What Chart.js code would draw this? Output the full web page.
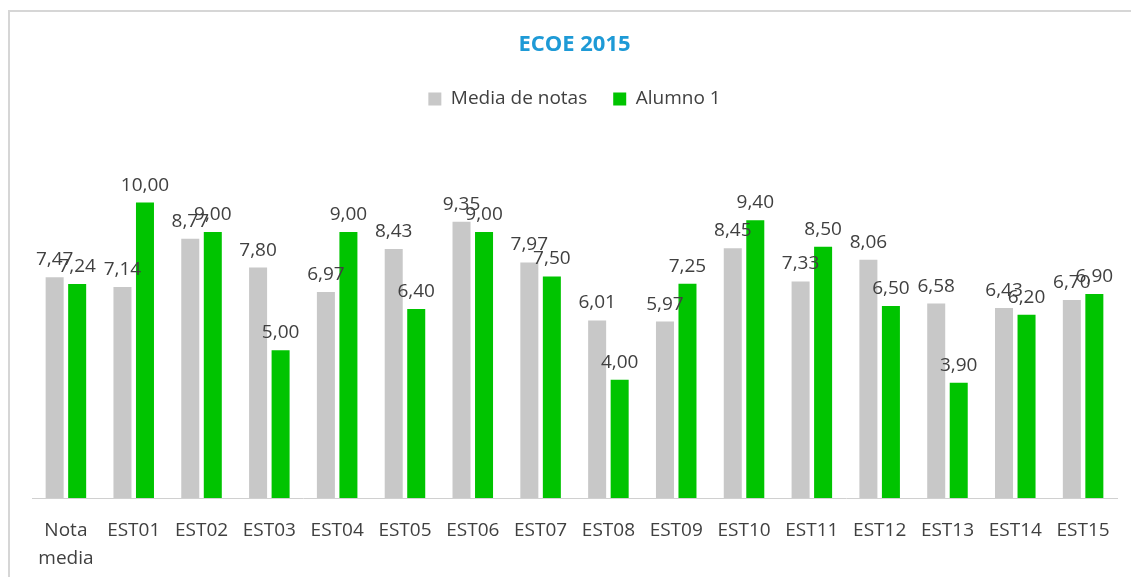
<!DOCTYPE html>
<html>
<head>
<meta charset="utf-8">
<script src="https://cdn.jsdelivr.net/npm/chart.js@4.4.1/dist/chart.umd.min.js"></script>
<style>
  html, body { margin: 0; padding: 0; background: #ffffff; overflow: hidden; }
  canvas { display: block; }
</style>
</head>
<body>
<canvas id="c" width="1131" height="577"></canvas>
<script>
const categories = [['Nota', 'media'], 'EST01', 'EST02', 'EST03', 'EST04', 'EST05', 'EST06', 'EST07',
  'EST08', 'EST09', 'EST10', 'EST11', 'EST12', 'EST13', 'EST14', 'EST15'];
const mediaNotas = [7.47, 7.14, 8.77, 7.80, 6.97, 8.43, 9.35, 7.97, 6.01, 5.97, 8.45, 7.33, 8.06, 6.58, 6.43, 6.70];
const alumno1 = [7.24, 10.00, 9.00, 5.00, 9.00, 6.40, 9.00, 7.50, 4.00, 7.25, 9.40, 8.50, 6.50, 3.90, 6.20, 6.90];
const seriesNames = ['Media de notas', 'Alumno 1'];
const chartTitle = 'ECOE 2015';

const FONT = "'Open Sans', 'DejaVu Sans', sans-serif";
const TEXT = '#404040';

const legendSpacer = {
  id: 'legendSpacer',
  beforeInit(chart) {
    const origFit = chart.legend.fit;
    chart.legend.fit = function () {
      origFit.bind(chart.legend)();
      this.height += 25;
    };
  }
};

const frame = {
  id: 'frame',
  beforeDraw(chart) {
    const ctx = chart.ctx;
    ctx.save();
    ctx.strokeStyle = '#d6d6d6';
    ctx.lineWidth = 2;
    ctx.beginPath();
    ctx.moveTo(9, chart.height);
    ctx.lineTo(9, 11);
    ctx.lineTo(chart.width, 11);
    ctx.stroke();
    ctx.restore();
  }
};

const valueLabels = {
  id: 'valueLabels',
  afterDatasetsDraw(chart) {
    const ctx = chart.ctx;
    ctx.save();
    ctx.font = '19px ' + FONT;
    ctx.fillStyle = TEXT;
    ctx.textAlign = 'center';
    ctx.textBaseline = 'alphabetic';
    chart.data.datasets.forEach((ds, di) => {
      const meta = chart.getDatasetMeta(di);
      meta.data.forEach((bar, i) => {
        const txt = ds.data[i].toFixed(2).replace('.', ',');
        ctx.fillText(txt, bar.x, bar.y - 12);
      });
    });
    ctx.restore();
  }
};

new Chart(document.getElementById('c'), {
  type: 'bar',
  data: {
    labels: categories,
    datasets: [
      { label: seriesNames[0], data: mediaNotas, backgroundColor: '#c8c8c8',
        categoryPercentage: 0.664, barPercentage: 0.8 },
      { label: seriesNames[1], data: alumno1, backgroundColor: '#00c400',
        categoryPercentage: 0.664, barPercentage: 0.8 }
    ]
  },
  options: {
    responsive: false,
    animation: false,
    devicePixelRatio: 1,
    layout: { padding: { left: 32, right: 14, top: 0, bottom: 0 } },
    plugins: {
      title: {
        display: true, text: chartTitle, color: '#1e9ad6',
        font: { family: FONT, size: 22, weight: 'bold', lineHeight: 1.2 },
        padding: { top: 32, bottom: 5 }
      },
      legend: {
        display: true, position: 'top',
        labels: {
          color: TEXT, font: { family: FONT, size: 19 },
          boxWidth: 13, boxHeight: 13, padding: 26
        }
      },
      tooltip: { enabled: false }
    },
    scales: {
      x: {
        grid: { display: false },
        border: { display: true, color: '#d0d0d0', width: 1 },
        ticks: {
          color: TEXT, font: { family: FONT, size: 19, lineHeight: 1.5 },
          autoSkip: false, maxRotation: 0, minRotation: 0, padding: 10
        },
        afterFit(scale) { scale.height = 79; }
      },
      y: {
        display: false, min: 0, max: 12
      }
    }
  },
  plugins: [frame, legendSpacer, valueLabels]
});
</script>
</body>
</html>
